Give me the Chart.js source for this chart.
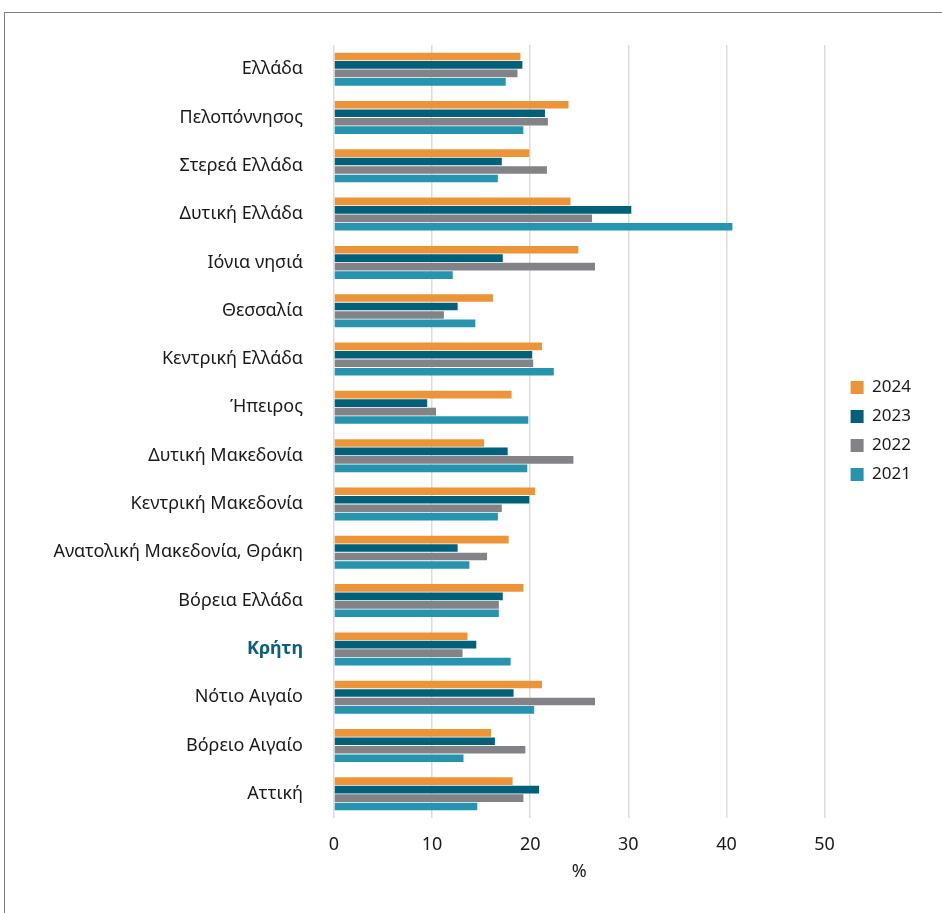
<!DOCTYPE html>
<html lang="el">
<head>
  <meta charset="UTF-8">
  <title>Περιφέρειες</title>
  <script src="https://cdn.jsdelivr.net/npm/chart.js"></script>
  <style>
    body { margin: 0; background: #fff; overflow: hidden; }
    .frame {
      position: absolute; left: 4px; top: 12px; width: 960px; height: 920px;
      border-top: 1.5px solid #7f7f7f; border-left: 1.5px solid #7f7f7f;
    }
    canvas { position: absolute; left: 0; top: 0; }
  </style>
</head>
<body>
  <div class="frame"></div>
  <canvas id="chart" width="942" height="913"></canvas>
  <script>
    // Κατηγορίες (από πάνω προς τα κάτω)
    const regions = [
      'Ελλάδα', 'Πελοπόννησος', 'Στερεά Ελλάδα', 'Δυτική Ελλάδα', 'Ιόνια νησιά',
      'Θεσσαλία', 'Κεντρική Ελλάδα', 'Ήπειρος', 'Δυτική Μακεδονία', 'Κεντρική Μακεδονία',
      'Ανατολική Μακεδονία, Θράκη', 'Βόρεια Ελλάδα', 'Κρήτη', 'Νότιο Αιγαίο',
      'Βόρειο Αιγαίο', 'Αττική'
    ];
    const years = ['2024', '2023', '2022', '2021'];
    const values2024 = [19.0, 23.9, 19.9, 24.1, 24.9, 16.2, 21.2, 18.1, 15.3, 20.5, 17.8, 19.3, 13.6, 21.2, 16.0, 18.2];
    const values2023 = [19.2, 21.5, 17.1, 30.3, 17.2, 12.6, 20.2, 9.5, 17.7, 19.9, 12.6, 17.2, 14.5, 18.3, 16.4, 20.9];
    const values2022 = [18.7, 21.8, 21.7, 26.3, 26.6, 11.2, 20.3, 10.4, 24.4, 17.1, 15.6, 16.8, 13.1, 26.6, 19.5, 19.3];
    const values2021 = [17.5, 19.3, 16.7, 40.6, 12.1, 14.4, 22.4, 19.8, 19.7, 16.7, 13.8, 16.8, 18.0, 20.4, 13.2, 14.6];
    const xTicks = [0, 10, 20, 30, 40, 50];
    const highlight = 'Κρήτη';

    const colors = ['#ED9438', '#01617A', '#838387', '#2693AF'];
    const series = [values2024, values2023, values2022, values2021];

    const fontFamily = '"Noto Sans", sans-serif';

    // μετακίνηση του υπομνήματος (πάνω/δεξιά) μετά τη διάταξη
    const legendShift = {
      id: 'legendShift',
      afterLayout(chart) {
        const L = chart.legend;
        L.top -= 33; L.bottom -= 33;
        L.left += 14; L.right += 14;
      }
    };

    new Chart(document.getElementById('chart'), {
      type: 'bar',
      data: {
        labels: regions,
        datasets: years.map((y, i) => ({
          label: y,
          data: series[i],
          backgroundColor: colors[i],
          borderWidth: 0,
          barPercentage: 0.9,
          categoryPercentage: 0.7
        }))
      },
      options: {
        indexAxis: 'y',
        responsive: false,
        animation: false,
        layout: { padding: { top: 45, right: 35, bottom: 30, left: 0 } },
        scales: {
          x: {
            min: 0,
            max: 50,
            afterBuildTicks: s => { s.ticks = xTicks.map(v => ({ value: v })); },
            afterFit: s => { s.height = 65; },
            grid: { color: '#dcdcdc', lineWidth: 1.5, drawTicks: false },
            border: { display: false },
            ticks: { padding: 16, color: '#1a1a1a', font: { family: fontFamily, size: 18 } },
            title: {
              display: true, text: '%', color: '#1a1a1a',
              padding: { top: 0, bottom: 0 },
              font: { family: fontFamily, size: 18 }
            }
          },
          y: {
            grid: { display: false },
            border: { display: false },
            afterFit: s => { s.width = 334; },
            ticks: {
              padding: 23,
              color: ctx => regions[ctx.index] === highlight ? '#0B6079' : '#1a1a1a',
              font: ctx => ({
                family: fontFamily, size: 18,
                weight: regions[ctx.index] === highlight ? 'bold' : 'normal'
              })
            }
          }
        },
        plugins: {
          legend: {
            position: 'right',
            labels: {
              boxWidth: 13, boxHeight: 13, padding: 12,
              color: '#1a1a1a',
              font: { family: fontFamily, size: 17 }
            }
          },
          tooltip: { enabled: false }
        }
      },
      plugins: [legendShift]
    });
  </script>
</body>
</html>
